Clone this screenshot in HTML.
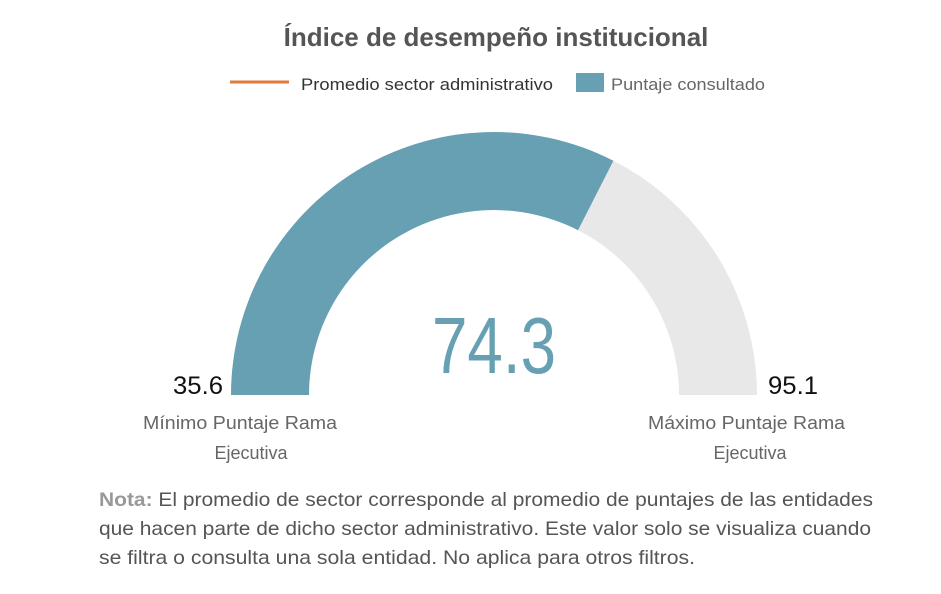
<!DOCTYPE html>
<html><head><meta charset="utf-8"><style>
body{margin:0;background:#fff;}
svg{display:block;font-family:"Liberation Sans",sans-serif;}
</style></head><body>
<svg width="941" height="594" viewBox="0 0 941 594" xmlns="http://www.w3.org/2000/svg">
<rect width="941" height="594" fill="#fff"/>
<text x="496" y="46" text-anchor="middle" font-size="26" font-weight="bold" fill="#555">Índice de desempeño institucional</text>
<line x1="230" y1="82" x2="289" y2="82" stroke="#e07b39" stroke-width="3"/>
<text x="301" y="90" font-size="17" fill="#333" textLength="252" lengthAdjust="spacingAndGlyphs">Promedio sector administrativo</text>
<rect x="576" y="73" width="28" height="19" fill="#67a0b3"/>
<text x="611" y="90" font-size="17" fill="#666" textLength="154" lengthAdjust="spacingAndGlyphs">Puntaje consultado</text>
<path d="M231 395 A263 263 0 0 1 757 395 L679 395 A185 185 0 0 0 309 395 Z" fill="#e8e8e8"/>
<path d="M231 395 A263 263 0 0 1 613.4 160.7 L578 230.2 A185 185 0 0 0 309 395 Z" fill="#67a0b3"/>
<text x="494" y="373" text-anchor="middle" font-size="80" fill="#67a0b3" textLength="124" lengthAdjust="spacingAndGlyphs">74.3</text>
<text x="198" y="394" text-anchor="middle" font-size="25" fill="#111" textLength="50" lengthAdjust="spacingAndGlyphs">35.6</text>
<text x="793" y="394" text-anchor="middle" font-size="25" fill="#111" textLength="50" lengthAdjust="spacingAndGlyphs">95.1</text>
<text x="143" y="429" font-size="18" fill="#666" textLength="194" lengthAdjust="spacingAndGlyphs">Mínimo Puntaje Rama</text>
<text x="251" y="459" text-anchor="middle" font-size="18" fill="#666">Ejecutiva</text>
<text x="648" y="429" font-size="18" fill="#666" textLength="197" lengthAdjust="spacingAndGlyphs">Máximo Puntaje Rama</text>
<text x="750" y="459" text-anchor="middle" font-size="18" fill="#666">Ejecutiva</text>
<text x="99" y="506" font-size="19.5" fill="#555" textLength="774" lengthAdjust="spacingAndGlyphs"><tspan font-weight="bold" fill="#999">Nota:</tspan> El promedio de sector corresponde al promedio de puntajes de las entidades</text>
<text x="99" y="535" font-size="19.5" fill="#555" textLength="772" lengthAdjust="spacingAndGlyphs">que hacen parte de dicho sector administrativo. Este valor solo se visualiza cuando</text>
<text x="99" y="564" font-size="19.5" fill="#555" textLength="596" lengthAdjust="spacingAndGlyphs">se filtra o consulta una sola entidad. No aplica para otros filtros.</text>
</svg>
</body></html>
